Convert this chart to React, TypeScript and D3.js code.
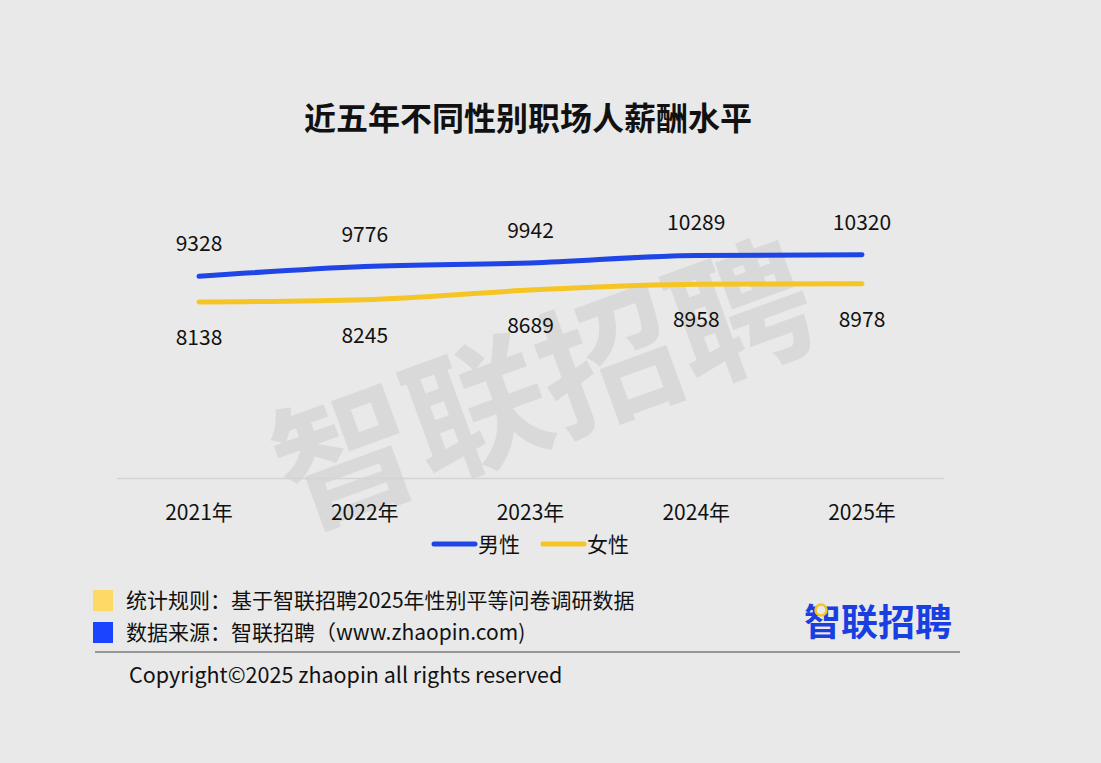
import React from "react";
import * as d3 from "d3";

const years = ["2021年", "2022年", "2023年", "2024年", "2025年"];
const maleValues = [9328, 9776, 9942, 10289, 10320];
const femaleValues = [8138, 8245, 8689, 8958, 8978];
const seriesNames = ["男性", "女性"];
const seriesColors = ["#1f45e6", "#f5c526"];
const title = "近五年不同性别职场人薪酬水平";
const notes = [
  "统计规则：基于智联招聘2025年性别平等问卷调研数据",
  "数据来源：智联招聘（www.zhaopin.com)",
];
const noteColors = ["#ffd966", "#1a44ff"];
const copyright = "Copyright©2025 zhaopin all rights reserved";
const brand = "智联招聘";

const W = 1101;
const H = 763;
const BG = "#e9e9e9";
const FONT = "'Noto Sans CJK SC', 'Noto Sans', sans-serif";

export default function App() {
  const x = d3.scalePoint<string>().domain(years).range([199, 862]);
  const y = d3.scaleLinear().domain([0, 12000]).range([478, 478 - 0.02163 * 12000]);
  const line = d3
    .line<number>()
    .x((_, i) => x(years[i]) as number)
    .y((d) => y(d))
    .curve(d3.curveMonotoneX);
  const series = [maleValues, femaleValues];

  return (
    <svg
      width={W}
      height={H}
      style={{ position: "absolute", left: 0, top: 0, background: BG }}
      fontFamily={FONT}
    >
      <rect width={W} height={H} fill={BG} />
      {/* watermark */}
      <text
        x={540}
        y={376}
        transform="rotate(-20 540 376)"
        textAnchor="middle"
        dominantBaseline="central"
        fontSize={140}
        fontWeight={700}
        fill="#d9d9d9"
      >
        {brand}
      </text>
      {/* title */}
      <text x={528} y={116} textAnchor="middle" dominantBaseline="central" fontSize={32} fontWeight={700} fill="#111">
        {title}
      </text>
      {/* axis line */}
      <line x1={117} x2={944} y1={478.5} y2={478.5} stroke="#d4d4d4" strokeWidth={1.5} />
      {years.map((yr) => (
        <text key={yr} x={x(yr)} y={511} textAnchor="middle" dominantBaseline="central" fontSize={21} fill="#111">
          {yr}
        </text>
      ))}
      {series.map((vals, si) => (
        <path
          key={si}
          d={line(vals) || ""}
          fill="none"
          stroke={seriesColors[si]}
          strokeWidth={5}
          strokeLinecap="round"
        />
      ))}
      {maleValues.map((v, i) => (
        <text key={"m" + i} x={x(years[i])} y={y(v) - 34} textAnchor="middle" dominantBaseline="central" fontSize={21} fill="#111">
          {v}
        </text>
      ))}
      {femaleValues.map((v, i) => (
        <text key={"f" + i} x={x(years[i])} y={y(v) + 34} textAnchor="middle" dominantBaseline="central" fontSize={21} fill="#111">
          {v}
        </text>
      ))}
      {/* legend */}
      {seriesNames.map((n, i) => {
        const lx = 434 + i * 109;
        return (
          <g key={n}>
            <line x1={lx} x2={lx + 41} y1={544} y2={544} stroke={seriesColors[i]} strokeWidth={5} strokeLinecap="round" />
            <text x={lx + 44} y={543} dominantBaseline="central" fontSize={21} fill="#111">
              {n}
            </text>
          </g>
        );
      })}
      {/* notes */}
      {notes.map((n, i) => (
        <g key={i}>
          <rect x={93} y={590 + i * 32} width={20} height={21} fill={noteColors[i]} />
          <text x={126} y={599 + i * 32} dominantBaseline="central" fontSize={21} fill="#111">
            {n}
          </text>
        </g>
      ))}
      <text x={878} y={620} textAnchor="middle" dominantBaseline="central" fontSize={37} fontWeight={700} fill="#1a3fe0">
        {brand}
      </text>
      <circle cx={821} cy={610} r={5.5} fill={BG} stroke="#f5c526" strokeWidth={2.5} />
      <line x1={95} x2={960} y1={652} y2={652} stroke="#444" strokeWidth={1.2} />
      <text x={129} y={673} dominantBaseline="central" fontSize={21.5} fill="#111">
        {copyright}
      </text>
    </svg>
  );
}
